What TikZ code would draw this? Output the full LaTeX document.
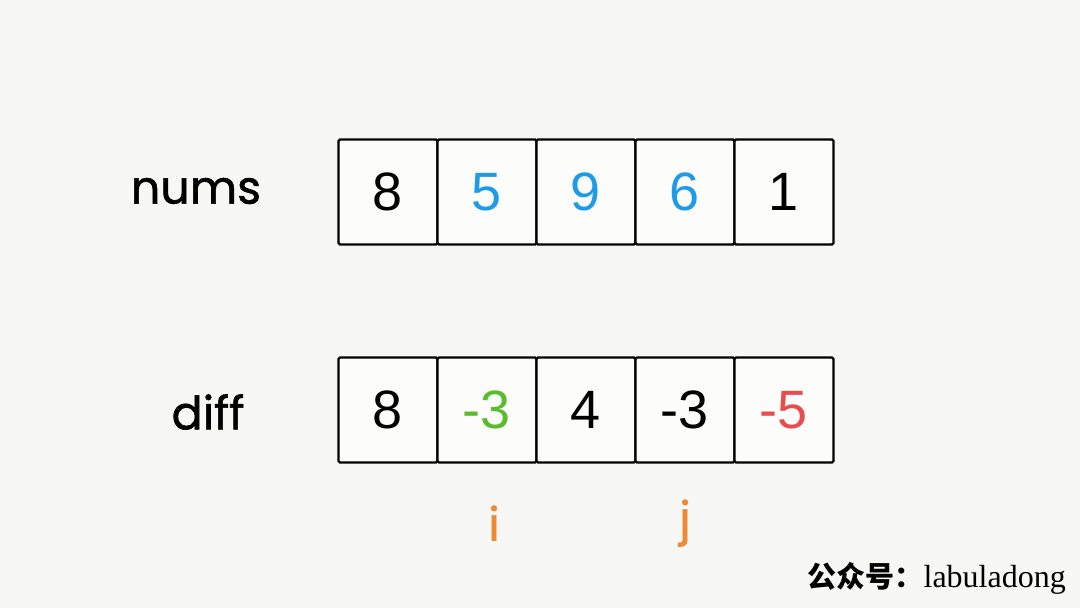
\documentclass[tikz,border=0pt]{standalone}
\usepackage{fontspec}
\setmainfont{Liberation Sans}
\newfontfamily\labelfont[FakeBold=1.2]{Poppins}
\newfontfamily\cjkfont{Noto Sans CJK SC}
\newfontfamily\serifwm{Liberation Serif}
\definecolor{bg}{HTML}{F7F7F5}
\definecolor{cblue}{HTML}{1E9BE8}
\definecolor{cgreen}{HTML}{5BBB2E}
\definecolor{cred}{HTML}{E84D4D}
\definecolor{corange}{HTML}{EE8A33}
\tikzset{
  cell/.style={draw=black, line width=2.4pt, rounded corners=1.5pt, fill=white!60!bg,
    minimum width=99pt, minimum height=105pt, inner sep=0pt,
    font=\fontsize{54}{58}\selectfont},
  rowlabel/.style={font=\labelfont\fontsize{46}{50}\selectfont, inner sep=0pt},
  idx/.style={font=\labelfont\fontsize{46}{50}\selectfont, text=corange, inner sep=0pt}
}
\begin{document}
\begin{tikzpicture}[x=1pt,y=-1pt]
\fill[bg] (0,0) rectangle (1080,608);
\useasboundingbox (0,0) rectangle (1080,608);
% top row
\node[cell] (n0) at (388,192) {8};
\node[cell, text=cblue] (n1) at (487,192) {5};
\node[cell, text=cblue] (n2) at (586,192) {9};
\node[cell, text=cblue] (n3) at (685,192) {6};
\node[cell] (n4) at (784,192) {1};
% bottom row
\node[cell] (d0) at (388,410) {8};
\node[cell, text=cgreen] (d1) at (487,410) {-3};
\node[cell] (d2) at (586,410) {4};
\node[cell] (d3) at (685,410) {-3};
\node[cell, text=cred] (d4) at (784,410) {-5};
% labels
\node[rowlabel] (lnums) at (196,191) {nums};
\node[rowlabel] (ldiff) at (208,412) {diff};
\node[idx] (li) at (494,523) {i};
\node[idx] (lj) at (685,523) {j};
\node[inner sep=0pt, anchor=east] (wm) at (1066,578) {{\fontsize{29}{33}\selectfont\cjkfont\bfseries 公众号：}{\fontsize{32}{35}\selectfont\serifwm labuladong}};
\end{tikzpicture}
\end{document}
